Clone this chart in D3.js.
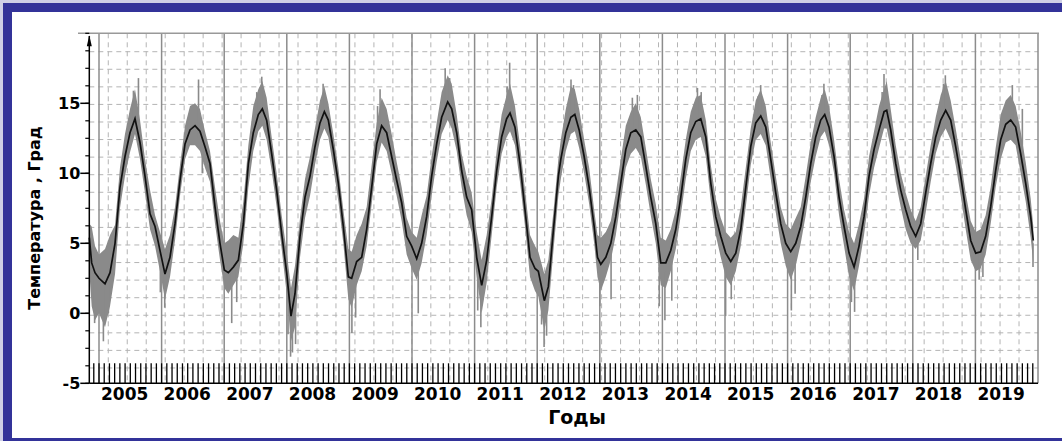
<!DOCTYPE html>
<html>
<head>
<meta charset="utf-8">
<script src="https://cdn.jsdelivr.net/npm/d3@7"></script>
<style>
  body { margin:0; background:#fff; }
  svg text { font-family:"DejaVu Sans", Verdana, sans-serif; font-weight:bold; fill:#000; }
</style>
</head>
<body>
<div id="viz"></div>
<script>
// smoothed series (decimal year, value)
var tSmooth = [2004.845,2004.883,2004.936,2005.000,2005.096,2005.176,2005.256,2005.335,2005.415,2005.495,2005.575,2005.655,2005.735,2005.815,2005.895,2005.974,
  2006.054,2006.134,2006.214,2006.294,2006.374,2006.454,2006.534,2006.613,2006.693,2006.773,2006.853,2006.933,
  2007.002,2007.066,2007.146,2007.226,2007.306,2007.386,2007.465,2007.545,2007.609,2007.678,2007.758,2007.838,2007.918,2007.998,
  2008.067,2008.131,2008.211,2008.291,2008.371,2008.450,2008.530,2008.600,2008.663,2008.743,2008.823,2008.903,2008.983,
  2009.036,2009.116,2009.196,2009.276,2009.356,2009.436,2009.515,2009.595,2009.675,2009.755,2009.835,2009.915,2009.995,
  2010.075,2010.154,2010.234,2010.314,2010.394,2010.474,2010.570,2010.634,2010.714,2010.793,2010.873,2010.953,
  2011.033,2011.113,2011.193,2011.273,2011.353,2011.432,2011.512,2011.566,2011.645,2011.725,2011.805,2011.885,2011.965,
  2012.018,2012.114,2012.178,2012.258,2012.338,2012.377,2012.457,2012.537,2012.601,2012.670,2012.750,2012.830,2012.910,2012.963,
  2013.016,2013.096,2013.176,2013.256,2013.335,2013.415,2013.495,2013.575,2013.655,2013.735,2013.814,2013.894,2013.974,
  2014.054,2014.134,2014.214,2014.294,2014.373,2014.453,2014.533,2014.613,2014.693,2014.773,2014.852,2014.932,
  2015.012,2015.092,2015.172,2015.252,2015.332,2015.411,2015.491,2015.571,2015.651,2015.731,2015.811,2015.890,2015.970,
  2016.050,2016.130,2016.210,2016.290,2016.370,2016.449,2016.529,2016.593,2016.662,2016.742,2016.822,2016.902,2016.982,
  2017.062,2017.141,2017.221,2017.301,2017.381,2017.461,2017.541,2017.583,2017.647,2017.727,2017.807,2017.887,2017.966,
  2018.046,2018.126,2018.206,2018.286,2018.366,2018.446,2018.525,2018.605,2018.685,2018.765,2018.845,2018.925,
  2019.005,2019.084,2019.164,2019.244,2019.324,2019.404,2019.484,2019.564,2019.643,2019.723,2019.803,2019.883,2019.925];

var vSmooth = [5.4,3.6,2.9,2.5,2.1,2.9,5.0,9.0,11.2,12.9,13.9,12.2,9.8,7.1,6.2,4.5,
  2.8,4.0,6.4,9.5,12.1,13.1,13.4,13.0,11.9,10.7,7.6,5.0,
  3.1,2.9,3.3,3.8,6.4,10.7,12.9,14.2,14.6,13.8,11.4,8.8,5.7,2.9,
  -0.2,1.4,5.5,8.3,9.8,11.9,13.6,14.4,13.8,11.7,9.3,6.2,2.6,
  2.5,3.7,4.0,6.0,9.0,12.1,13.4,12.9,11.2,9.5,7.9,5.5,4.8,
  3.9,5.0,6.9,9.8,12.1,14.0,15.1,14.6,12.9,10.2,8.3,7.4,
  4.0,2.0,3.8,6.9,10.2,12.6,13.9,14.3,13.3,10.7,7.4,4.0,3.2,
  3.0,0.9,1.9,5.9,9.8,11.0,12.9,14.0,14.2,13.1,11.2,9.0,6.2,4.0,
  3.5,4.0,5.0,6.9,9.3,11.7,12.9,13.1,12.6,10.5,8.3,6.4,3.6,
  3.6,4.5,6.0,8.3,11.0,12.9,13.7,13.9,12.6,9.3,6.9,5.5,
  4.3,3.7,4.3,6.0,9.0,11.9,13.6,14.1,13.3,11.0,8.6,6.4,5.0,
  4.4,5.0,6.2,8.3,10.7,12.6,13.8,14.2,13.3,11.2,8.3,6.2,4.3,
  3.3,4.8,6.9,9.8,11.7,13.1,14.4,14.5,13.1,10.7,8.8,7.4,6.2,
  5.5,6.4,8.6,10.7,12.6,13.8,14.5,13.8,11.9,9.8,7.4,5.2,
  4.3,4.4,5.5,7.6,10.2,12.4,13.5,13.8,13.3,11.4,9.3,6.9,5.2];

// spread of the daily series at the same dates
var vHigh = [6.4,6.2,4.8,4.2,4.6,5.6,6.3,10.4,12.8,14.6,16.0,13.8,11.0,8.8,7.0,5.8,
  4.6,5.6,7.6,10.6,13.4,14.8,15.0,14.6,13.0,11.6,9.0,6.6,
  5.0,5.2,5.6,5.4,8.0,12.0,14.8,16.0,16.6,15.4,12.6,10.0,7.0,4.4,
  1.8,3.4,6.8,9.6,11.2,13.2,15.2,16.2,15.0,12.8,10.4,7.4,4.6,
  4.4,5.6,6.4,7.6,10.6,13.6,15.4,14.6,12.8,10.8,9.0,6.8,5.8,
  5.4,7.0,8.4,11.2,13.6,15.8,17.0,16.4,14.2,11.4,9.8,8.6,
  5.8,3.8,5.6,8.2,11.6,14.2,15.6,16.4,14.8,12.0,8.8,5.6,4.8,
  4.4,2.8,3.8,7.2,11.0,12.4,14.6,16.2,16.0,14.6,12.4,10.4,7.4,5.6,
  5.4,5.8,6.6,8.6,11.0,13.4,14.4,15.0,14.0,11.8,9.6,7.8,5.4,
  5.2,6.0,7.4,9.8,12.4,14.4,15.4,15.6,13.8,10.6,8.2,6.8,
  5.8,5.4,5.8,7.6,10.4,13.2,15.2,16.0,14.8,12.2,9.8,7.6,6.4,
  6.0,6.8,7.6,9.8,12.2,14.0,15.4,16.0,14.8,12.4,9.6,7.4,5.8,
  5.0,6.4,8.2,11.2,13.0,14.8,16.0,16.6,14.6,12.0,10.0,8.6,7.4,
  6.6,7.6,9.8,12.0,14.0,15.6,16.6,15.2,13.2,11.0,8.6,6.6,
  5.8,6.0,7.0,9.0,11.8,14.2,15.2,15.6,14.8,13.0,10.8,8.2,6.2];

var vLow = [3.0,0.5,-0.5,0.0,-1.0,0.5,2.8,7.5,9.8,11.5,12.8,11.0,8.6,6.0,4.8,3.0,
  1.0,2.6,5.2,8.4,11.0,12.0,12.0,11.6,10.4,9.4,6.4,3.8,
  1.8,1.4,2.0,2.6,5.0,9.0,11.6,13.0,13.4,12.4,10.2,7.6,4.6,1.4,
  -2.0,-1.0,4.0,6.8,8.4,10.6,12.4,13.2,12.6,10.4,8.0,5.0,1.0,
  0.4,2.0,3.0,4.8,7.8,10.8,12.2,11.6,10.0,8.4,6.6,4.2,3.2,
  2.4,3.6,5.6,8.4,10.8,12.8,13.8,13.2,11.6,9.0,7.0,5.8,
  2.6,0.0,2.2,5.6,9.0,11.4,12.6,13.0,12.0,9.4,6.2,2.6,1.6,
  1.2,-1.2,0.2,4.4,8.4,9.6,11.6,12.8,13.0,11.8,10.0,7.8,5.0,2.6,
  1.6,2.6,3.8,5.6,8.0,10.4,11.4,11.8,11.2,9.2,7.0,5.0,2.0,
  1.8,3.0,4.6,7.0,9.6,11.6,12.4,12.6,11.2,8.0,5.6,4.0,
  2.6,2.0,3.0,4.8,7.6,10.6,12.4,12.8,12.0,9.6,7.2,5.0,3.4,
  2.4,3.4,5.0,7.0,9.4,11.2,12.6,13.0,12.0,10.0,7.0,4.8,2.6,
  1.6,3.4,5.6,8.4,10.4,11.8,13.2,13.2,11.8,9.4,7.6,6.0,5.0,
  4.6,5.2,7.2,9.4,11.4,12.6,13.2,12.4,10.6,8.4,6.0,3.8,
  3.0,3.2,4.2,6.4,9.0,11.0,12.2,12.4,12.0,10.0,8.0,5.4,3.6];

// single daily excursions
var spikeT  = [2004.93,2005.07,2005.15,2005.55,2005.63,2005.98,2006.05,2006.59,2006.65,2007.12,2007.20,2007.52,2007.60,
  2008.02,2008.06,2008.09,2008.14,2008.58,2009.04,2009.10,2009.45,2009.49,2010.10,2010.53,2010.60,2011.05,2011.10,
  2011.52,2011.56,2012.07,2012.11,2012.15,2012.54,2012.58,2013.00,2013.18,2013.52,2013.60,2013.95,2014.04,2014.15,
  2014.56,2014.62,2015.01,2015.10,2015.53,2015.57,2016.06,2016.12,2016.55,2016.58,2017.02,2017.07,2017.51,2017.54,
  2018.08,2018.49,2018.52,2019.06,2019.12,2019.59,2019.75,2019.92];
var spikeLo = [-0.7,-2.0,0.0,13.0,12.5,1.5,0.4,12.5,10.0,-0.7,0.8,13.0,14.0,
  -1.5,-3.1,-2.8,-2.2,13.5,-1.4,-0.3,12.5,13.0,0.0,14.5,14.2,0.2,-1.0,
  13.5,14.0,-0.8,-2.4,-1.6,14.0,14.0,0.5,1.0,13.0,12.8,0.5,-0.5,0.9,
  14.0,13.5,-0.2,1.0,13.5,14.0,0.2,1.4,13.8,14.0,0.8,0.1,13.5,14.0,
  3.8,14.0,14.5,2.4,2.6,13.8,11.0,3.3];
var spikeHi = [3.0,2.5,3.0,15.9,16.8,4.5,3.0,16.7,13.5,3.0,3.4,15.8,16.9,
  2.0,0.5,0.4,1.5,16.4,2.5,3.5,14.8,16.0,4.0,17.5,16.8,3.5,2.0,
  16.2,17.9,2.5,1.0,1.5,16.7,16.3,3.5,4.5,15.4,15.6,3.5,3.0,4.0,
  16.1,15.8,3.5,3.8,15.5,16.3,4.0,4.5,15.6,16.4,3.5,3.0,15.8,17.1,
  5.5,16.4,17.0,4.5,4.8,16.3,14.6,5.0];

var years = [2005,2006,2007,2008,2009,2010,2011,2012,2013,2014,2015,2016,2017,2018,2019];
var yTicks = [-5,0,5,10,15];

var W = 1062, H = 441;
var svg = d3.select('#viz').append('svg').attr('width',W).attr('height',H);

// frame
svg.append('rect').attr('x',0).attr('y',0).attr('width',W).attr('height',H).style('fill','#cfd0e6');
svg.append('rect').attr('x',3).attr('y',3).attr('width',W-3).attr('height',H-3).style('fill','#333399');
svg.append('rect').attr('x',12).attr('y',12).attr('width',W-12).attr('height',426).style('fill','#fff');

var x = d3.scaleLinear().domain([2004.845, 2020]).range([89.3, 1038]);
var y = d3.scaleLinear().domain([-5, 20]).range([383.3, 33.3]);

var gridX = d3.range(1,50).map(function(i){ return 2004.845 + i*(2020-2004.845)/50; });
var gridY = d3.range(1,20).map(function(i){ return 19.94 - i*1.255; });

svg.append('g').selectAll('line').data(gridX).join('line')
   .attr('x1',d=>x(d)).attr('x2',d=>x(d)).attr('y1',y(20)).attr('y2',y(-5))
   .style('stroke','#b4b4b4').style('stroke-width',1).style('stroke-dasharray','5,4');
svg.append('g').selectAll('line').data(gridY).join('line')
   .attr('x1',x(2004.845)).attr('x2',x(2020)).attr('y1',d=>y(d)).attr('y2',d=>y(d))
   .style('stroke','#b4b4b4').style('stroke-width',1).style('stroke-dasharray','5,4');

// year lines
svg.append('g').selectAll('line').data(years.concat([2020])).join('line')
   .attr('x1',d=>x(d)).attr('x2',d=>x(d)).attr('y1',y(20)).attr('y2',y(-5))
   .style('stroke','#8c8c8c').style('stroke-width',1.5);
svg.append('line').attr('x1',78).attr('x2',x(2020)+1).attr('y1',y(20)).attr('y2',y(20))
   .style('stroke','#999').style('stroke-width',1.5);

// daily series
var band = d3.area().x((d,i)=>x(tSmooth[i])).y0((d,i)=>y(vLow[i])).y1((d,i)=>y(vHigh[i]));
svg.append('path').datum(vSmooth).attr('d',band).style('fill','#8a8a8a');
svg.append('g').selectAll('line').data(spikeT).join('line')
   .attr('x1',d=>x(d)).attr('x2',d=>x(d))
   .attr('y1',(d,i)=>y(spikeLo[i])).attr('y2',(d,i)=>y(spikeHi[i]))
   .style('stroke','#8a8a8a').style('stroke-width',1.6);

var smoothLine = d3.line().x((d,i)=>x(tSmooth[i])).y(d=>y(d));
svg.append('path').datum(vSmooth).attr('d',smoothLine)
   .style('fill','none').style('stroke','#111').style('stroke-width',1.7);

// x axis with monthly ticks
var months = d3.range(2004+11/12, 2020, 1/12).filter(d=>d>2004.85 && d<2019.99);
svg.append('g').selectAll('line').data(months).join('line')
   .attr('x1',d=>x(d)).attr('x2',d=>x(d)).attr('y1',y(-5)-20).attr('y2',y(-5))
   .style('stroke','#000').style('stroke-width',1.3);
svg.append('line').attr('x1',x(2004.845)).attr('x2',x(2020)).attr('y1',y(-5)).attr('y2',y(-5))
   .style('stroke','#000').style('stroke-width',1.5);
svg.append('g').selectAll('text').data(years).join('text')
   .attr('x',d=>x(d+0.41)).attr('y',400).attr('text-anchor','middle')
   .style('font-size','17px').text(d=>d);

// y axis
var yMinor = d3.range(-5, 20.01, 1.25);
svg.append('line').attr('x1',x(2004.845)).attr('x2',x(2004.845)).attr('y1',y(-5)).attr('y2',y(19.8))
   .style('stroke','#000').style('stroke-width',1.5);
svg.append('path').attr('d','M'+x(2004.845)+','+(y(20)+2)+' l-2.5,11 l5,0 z').style('fill','#000');
svg.append('g').selectAll('line').data(yMinor).join('line')
   .attr('x1',x(2004.845)-4).attr('x2',x(2004.845)).attr('y1',d=>y(d)).attr('y2',d=>y(d))
   .style('stroke','#000').style('stroke-width',1.2);
svg.append('g').selectAll('line').data(yTicks).join('line')
   .attr('x1',x(2004.845)-9).attr('x2',x(2004.845)).attr('y1',d=>y(d)).attr('y2',d=>y(d))
   .style('stroke','#000').style('stroke-width',1.5);
svg.append('g').selectAll('text').data(yTicks).join('text')
   .attr('x',x(2004.845)-9).attr('y',d=>y(d)+6).attr('text-anchor','end')
   .style('font-size','16px').text(d=>d);

svg.append('text').attr('transform','translate(40,218) rotate(-90)').attr('text-anchor','middle')
   .style('font-size','16px').text('Температура , Град');
svg.append('text').attr('x',577).attr('y',424).attr('text-anchor','middle')
   .style('font-size','19px').text('Годы');
</script>
</body>
</html>
